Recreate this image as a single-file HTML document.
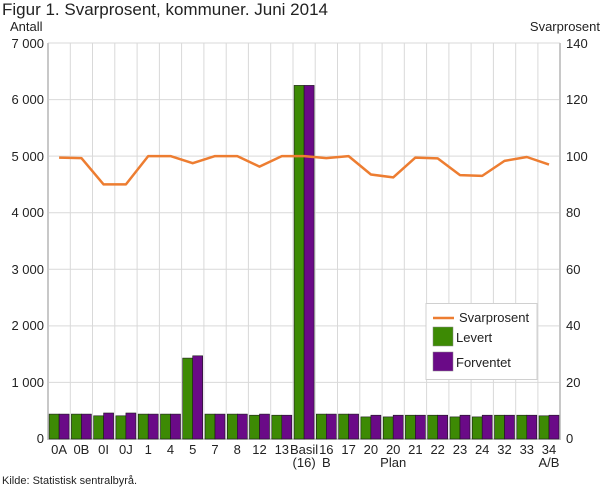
<!DOCTYPE html>
<html><head><meta charset="utf-8"><style>
body{margin:0;background:#fff;}
svg{display:block;font-family:"Liberation Sans",sans-serif;}
</style></head><body>
<svg width="610" height="488" viewBox="0 0 610 488">
<text x="2" y="15" font-size="17" fill="#222">Figur 1. Svarprosent, kommuner. Juni 2014</text>
<text x="10" y="31" font-size="13" fill="#222">Antall</text>
<text x="600" y="31" font-size="13" fill="#222" text-anchor="end">Svarprosent</text>
<g stroke="#d9d9d9" stroke-width="1">
<line x1="48" y1="43" x2="560" y2="43"/><line x1="48" y1="99.6" x2="560" y2="99.6"/><line x1="48" y1="156.1" x2="560" y2="156.1"/><line x1="48" y1="212.7" x2="560" y2="212.7"/><line x1="48" y1="269.3" x2="560" y2="269.3"/><line x1="48" y1="325.9" x2="560" y2="325.9"/><line x1="48" y1="382.4" x2="560" y2="382.4"/>
<line x1="70.3" y1="43" x2="70.3" y2="439"/><line x1="92.5" y1="43" x2="92.5" y2="439"/><line x1="114.8" y1="43" x2="114.8" y2="439"/><line x1="137.1" y1="43" x2="137.1" y2="439"/><line x1="159.4" y1="43" x2="159.4" y2="439"/><line x1="181.6" y1="43" x2="181.6" y2="439"/><line x1="203.9" y1="43" x2="203.9" y2="439"/><line x1="226.2" y1="43" x2="226.2" y2="439"/><line x1="248.4" y1="43" x2="248.4" y2="439"/><line x1="270.7" y1="43" x2="270.7" y2="439"/><line x1="293" y1="43" x2="293" y2="439"/><line x1="315.2" y1="43" x2="315.2" y2="439"/><line x1="337.5" y1="43" x2="337.5" y2="439"/><line x1="359.8" y1="43" x2="359.8" y2="439"/><line x1="382.1" y1="43" x2="382.1" y2="439"/><line x1="404.3" y1="43" x2="404.3" y2="439"/><line x1="426.6" y1="43" x2="426.6" y2="439"/><line x1="448.9" y1="43" x2="448.9" y2="439"/><line x1="471.1" y1="43" x2="471.1" y2="439"/><line x1="493.4" y1="43" x2="493.4" y2="439"/><line x1="515.7" y1="43" x2="515.7" y2="439"/><line x1="537.9" y1="43" x2="537.9" y2="439"/>
</g>
<g stroke="#c8c8c8" stroke-width="2"><line x1="48" y1="43" x2="48" y2="440"/><line x1="560" y1="43" x2="560" y2="440"/><line x1="47" y1="439" x2="561" y2="439"/></g>
<g font-size="13" fill="#222" text-anchor="end">
<text x="44" y="48">7 000</text><text x="44" y="104">6 000</text><text x="44" y="161">5 000</text><text x="44" y="217">4 000</text><text x="44" y="274">3 000</text><text x="44" y="330">2 000</text><text x="44" y="387">1 000</text><text x="44" y="443">0</text>
</g>
<g font-size="13" fill="#222">
<text x="566" y="48">140</text><text x="566" y="104">120</text><text x="566" y="161">100</text><text x="566" y="217">80</text><text x="566" y="274">60</text><text x="566" y="330">40</text><text x="566" y="387">20</text><text x="566" y="443">0</text>
</g>
<g stroke="#1a1a1a" stroke-width="0.6">
<g fill="#3d8a04">
<rect x="49.1" y="414.1" width="10" height="24.9"/><rect x="71.4" y="414.1" width="10" height="24.9"/><rect x="93.6" y="415.8" width="10" height="23.2"/><rect x="115.9" y="415.8" width="10" height="23.2"/><rect x="138.2" y="414.1" width="10" height="24.9"/><rect x="160.5" y="414.1" width="10" height="24.9"/><rect x="182.7" y="358.1" width="10" height="80.9"/><rect x="205" y="414.1" width="10" height="24.9"/><rect x="227.3" y="414.1" width="10" height="24.9"/><rect x="249.5" y="415.2" width="10" height="23.8"/><rect x="271.8" y="415.2" width="10" height="23.8"/><rect x="294.1" y="85.4" width="10" height="353.6"/><rect x="316.3" y="414.1" width="10" height="24.9"/><rect x="338.6" y="414.1" width="10" height="24.9"/><rect x="360.9" y="416.9" width="10" height="22.1"/><rect x="383.2" y="416.9" width="10" height="22.1"/><rect x="405.4" y="415.2" width="10" height="23.8"/><rect x="427.7" y="415.2" width="10" height="23.8"/><rect x="450" y="416.9" width="10" height="22.1"/><rect x="472.2" y="416.9" width="10" height="22.1"/><rect x="494.5" y="415.2" width="10" height="23.8"/><rect x="516.8" y="415.2" width="10" height="23.8"/><rect x="539" y="415.8" width="10" height="23.2"/>
</g>
<g fill="#6a0a87">
<rect x="59.1" y="414.1" width="10" height="24.9"/><rect x="81.4" y="414.1" width="10" height="24.9"/><rect x="103.6" y="413" width="10" height="26"/><rect x="125.9" y="413" width="10" height="26"/><rect x="148.2" y="414.1" width="10" height="24.9"/><rect x="170.5" y="414.1" width="10" height="24.9"/><rect x="192.7" y="355.8" width="10" height="83.2"/><rect x="215" y="414.1" width="10" height="24.9"/><rect x="237.3" y="414.1" width="10" height="24.9"/><rect x="259.5" y="414.1" width="10" height="24.9"/><rect x="281.8" y="415.2" width="10" height="23.8"/><rect x="304.1" y="85.4" width="10" height="353.6"/><rect x="326.3" y="414.1" width="10" height="24.9"/><rect x="348.6" y="414.1" width="10" height="24.9"/><rect x="370.9" y="415.2" width="10" height="23.8"/><rect x="393.2" y="415.2" width="10" height="23.8"/><rect x="415.4" y="415.2" width="10" height="23.8"/><rect x="437.7" y="415.2" width="10" height="23.8"/><rect x="460" y="415.2" width="10" height="23.8"/><rect x="482.2" y="415.2" width="10" height="23.8"/><rect x="504.5" y="415.2" width="10" height="23.8"/><rect x="526.8" y="415.2" width="10" height="23.8"/><rect x="549" y="415.2" width="10" height="23.8"/>
</g></g>
<polyline fill="none" stroke="#ed7d31" stroke-width="2.5" stroke-linejoin="round" points="59.1,157.6 81.4,158.1 103.6,184.4 125.9,184.4 148.2,156.1 170.5,156.1 192.7,163.2 215,156.1 237.3,156.1 259.5,166.6 281.8,156.1 304.1,156.1 326.3,158.1 348.6,156.1 370.9,174.5 393.2,177.4 415.4,157.6 437.7,158.4 460,175.1 482.2,175.9 504.5,160.9 526.8,157 549,164.6"/>
<g font-size="13" fill="#222" text-anchor="middle">
<text x="59.1" y="454">0A</text><text x="81.4" y="454">0B</text><text x="103.6" y="454">0I</text><text x="125.9" y="454">0J</text><text x="148.2" y="454">1</text><text x="170.5" y="454">4</text><text x="192.7" y="454">5</text><text x="215" y="454">7</text><text x="237.3" y="454">8</text><text x="259.5" y="454">12</text><text x="281.8" y="454">13</text><text x="304.1" y="454">Basil</text><text x="304.1" y="467">(16)</text><text x="326.3" y="454">16</text><text x="326.3" y="467">B</text><text x="348.6" y="454">17</text><text x="370.9" y="454">20</text><text x="393.2" y="454">20</text><text x="393.2" y="467">Plan</text><text x="415.4" y="454">21</text><text x="437.7" y="454">22</text><text x="460" y="454">23</text><text x="482.2" y="454">24</text><text x="504.5" y="454">32</text><text x="526.8" y="454">33</text><text x="549" y="454">34</text><text x="549" y="467">A/B</text>
</g>
<text x="2" y="484" font-size="11" fill="#222">Kilde: Statistisk sentralbyrå.</text>
<rect x="426" y="303.5" width="111" height="76" fill="#fff" stroke="#d0d0d0"/>
<line x1="433" y1="318" x2="454" y2="318" stroke="#ed7d31" stroke-width="2.5"/>
<text x="459" y="322" font-size="13" fill="#222">Svarprosent</text>
<rect x="433" y="327" width="20" height="19" fill="#3d8a04" stroke="#888" stroke-width="0.5"/>
<text x="456" y="342" font-size="13" fill="#222">Levert</text>
<rect x="433" y="352" width="20" height="19" fill="#6a0a87" stroke="#888" stroke-width="0.5"/>
<text x="456" y="367" font-size="13" fill="#222">Forventet</text>
</svg>
</body></html>
